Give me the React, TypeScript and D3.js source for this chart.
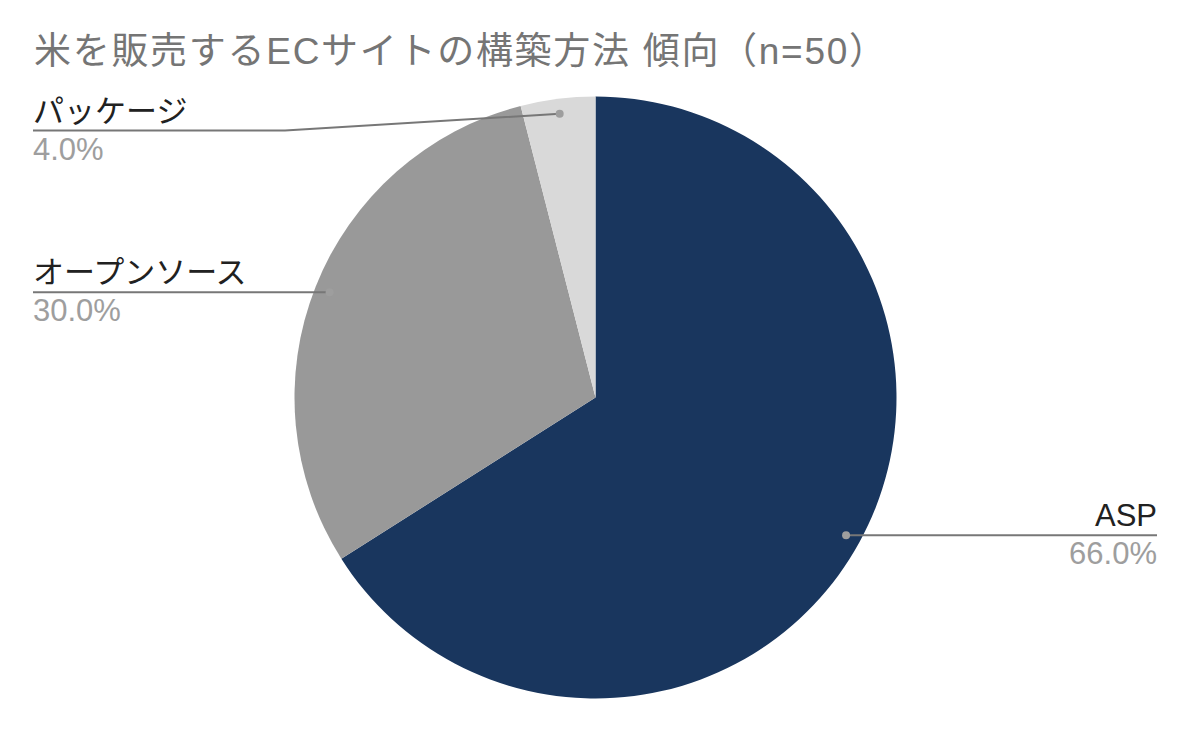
import React, { useEffect, useRef } from 'react';
import { arc, pie, select } from 'd3';

const title = '米を販売するECサイトの構築方法 傾向（n=50）';
const categories = ['ASP', 'オープンソース', 'パッケージ'];
const shares = [66.0, 30.0, 4.0];
const colors = ['#19365e', '#999999', '#d9d9d9'];

const App = () => {
  const chartRef = useRef<SVGSVGElement | null>(null);

  useEffect(() => {
    document.body.style.margin = '0';
    const svg = select(chartRef.current);
    const width = 1190;
    const height = 730;
    const cx = 595.5;
    const cy = 397.5;
    const r = 301;
    const font = "'Liberation Sans', Arial, 'Noto Sans CJK JP', sans-serif";

    svg.selectAll('*').remove();
    svg.attr('width', width).attr('height', height);

    svg.append('rect').attr('width', width).attr('height', height).attr('fill', '#fff');

    svg
      .append('text')
      .attr('x', 34)
      .attr('y', 64)
      .attr('font-family', font)
      .attr('font-size', 37)
      .attr('fill', '#757575')
      .attr('textLength', 852)
      .attr('lengthAdjust', 'spacing')
      .text(title);

    const data = categories.map((c, i) => ({ name: c, value: shares[i], color: colors[i] }));
    const arcs = pie<any>()
      .value((d) => d.value)
      .sort(null)(data);

    const pieArc = arc<any>().innerRadius(0).outerRadius(r);
    const dotArc = arc<any>().innerRadius(r * 0.95).outerRadius(r * 0.95);

    const g = svg.append('g').attr('transform', `translate(${cx},${cy})`);
    g.selectAll('path')
      .data(arcs)
      .enter()
      .append('path')
      .attr('d', pieArc)
      .attr('fill', (d) => d.data.color);

    const labels = svg.append('g');
    arcs.forEach((a) => {
      const [dx, dy] = dotArc.centroid(a);
      const px = cx + dx;
      const py = cy + dy;
      const right = px > cx;
      const ly = Math.max(py, 130.5);
      const tx = right ? 1157 : 33;
      const elbow = right ? px : Math.min(px - 4, 285);
      const pts = right
        ? [[px, py], [tx, ly]]
        : [[px, py], [elbow, ly], [tx, ly]];

      labels
        .append('polyline')
        .attr('points', pts.map((p) => p.join(',')).join(' '))
        .attr('fill', 'none')
        .attr('stroke', '#777777')
        .attr('stroke-width', 2);

      labels
        .append('circle')
        .attr('cx', px)
        .attr('cy', py)
        .attr('r', 4)
        .attr('fill', '#9e9e9e');

      labels
        .append('text')
        .attr('x', tx)
        .attr('y', ly - 9)
        .attr('text-anchor', right ? 'end' : 'start')
        .attr('font-family', font)
        .attr('font-size', 31)
        .attr('fill', '#212121')
        .text(a.data.name);

      labels
        .append('text')
        .attr('x', tx)
        .attr('y', ly + 29)
        .attr('text-anchor', right ? 'end' : 'start')
        .attr('font-family', font)
        .attr('font-size', 31)
        .attr('fill', '#9e9e9e')
        .text(`${a.data.value.toFixed(1)}%`);
    });
  }, []);

  return <svg ref={chartRef} style={{ display: 'block' }} />;
};

export default App;
